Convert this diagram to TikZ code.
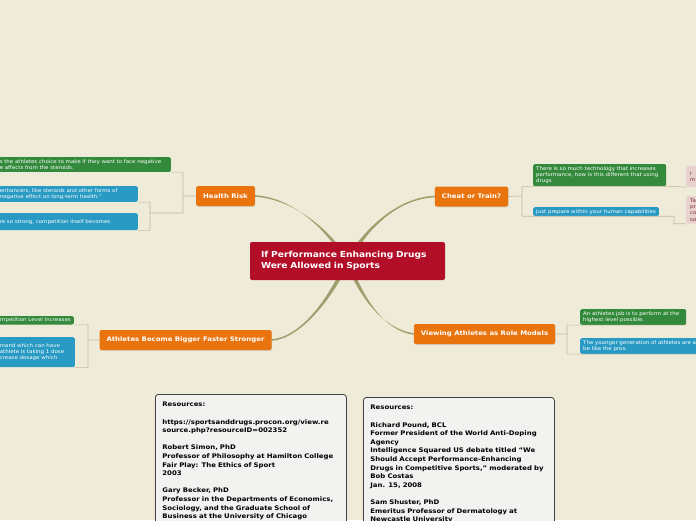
\documentclass[tikz,border=0pt]{standalone}
\usepackage{fontspec}
\newfontfamily\mmfont[FakeStretch=1.1]{DejaVu Sans}
\usetikzlibrary{positioning, calc, shadows}
\definecolor{mmbg}{RGB}{239,235,217}
\definecolor{mmred}{RGB}{178,14,40}
\definecolor{mmorange}{RGB}{233,116,14}
\definecolor{mmgreen}{RGB}{52,138,60}
\definecolor{mmblue}{RGB}{40,154,196}
\definecolor{mmpink}{RGB}{232,210,208}
\definecolor{mmpinktext}{RGB}{120,40,50}
\definecolor{mmline}{RGB}{196,186,160}
\definecolor{mmbranch}{RGB}{160,158,108}
\definecolor{mmbox}{RGB}{242,242,240}
\pgfdeclarelayer{bg}
\pgfsetlayers{bg,main}
\tikzset{
    central/.style={ % the main idea
        fill=mmred, text=white, rounded corners=2pt,
        font=\mmfont\bfseries\fontsize{8.3}{11}\selectfont,
        align=left, text width=173pt, inner xsep=11pt,
        minimum height=38pt
    },
    topic/.style={ % orange first level
        fill=mmorange, text=white, rounded corners=2pt,
        font=\mmfont\bfseries\fontsize{6.3}{7.5}\selectfont,
        inner xsep=7pt, minimum height=20pt,
        drop shadow={opacity=0.25, shadow xshift=0.6pt, shadow yshift=-0.8pt}
    },
    sub/.style={ % second level
        text=white, rounded corners=1.5pt,
        font=\mmfont\fontsize{5}{6.3}\selectfont,
        align=left, inner xsep=3pt, inner ysep=2.3pt
    },
    subgreen/.style={sub, fill=mmgreen},
    subblue/.style={sub, fill=mmblue},
    subpink/.style={sub, fill=mmpink, text=mmpinktext},
    resource/.style={ % the notes boxes
        fill=mmbox, draw=black!75, line width=0.8pt, rounded corners=3pt,
        font=\mmfont\bfseries\fontsize{6.3}{8.6}\selectfont,
        align=left, text width=177pt, inner xsep=7pt, inner ysep=7.8pt,
        anchor=north west
    },
    link/.style={draw=mmline, line width=0.6pt},
    branch/.style={fill=mmbranch},
}
\newcommand\mmbranch[3]{% end point, control near centre, control near end
    \fill[branch] ($(main.center)+(-2.6,0)$) .. controls ($#2+(-1.7,0)$) and ($#3+(0,-0.8)$) .. ($#1+(0,-0.8)$)
        -- ($#1+(0,0.8)$) .. controls ($#3+(0,0.8)$) and ($#2+(1.7,0)$) .. ($(main.center)+(2.6,0)$) -- cycle;}

\begin{document}
\begin{tikzpicture}[x=1pt,y=-1pt]
    \useasboundingbox (0,0) rectangle (696,520);
    \clip (0,0) rectangle (696,520);
    \begin{pgfonlayer}{bg}
        \fill[mmbg] (0,0) rectangle (696,520);
    \end{pgfonlayer}

    \node[central] (main) at (347.5,261) {If Performance Enhancing Drugs\\Were Allowed in Sports};

    \node[topic] (hr) at (225.5,196)   {Health Risk};
    \node[topic] (ct) at (471.5,196.5) {Cheat or Train?};
    \node[topic] (ab) at (185.5,340)   {Athletes Become Bigger Faster Stronger};
    \node[topic] (va) at (484.5,334)   {Viewing Athletes as Role Models};

    % health risk
    \node[subgreen, text width=168pt, anchor=north east] (hr-a) at (171,157)
        {s the athletes choice to make if they want to face negative\\e affects from the steroids.};
    \node[subblue, text width=135pt, anchor=north east] (hr-b) at (138,186)
        {enhancers, like steroids and other forms of\\ negative effect on long-term health.”};
    \node[subblue, text width=135pt, anchor=north east, minimum height=17pt] (hr-c) at (138,213)
        {re so strong, competition itself becomes};

    % cheat or train
    \node[subgreen, text width=127pt, anchor=north west] (ct-a) at (533,164)
        {There is so much technology that increases\\performance, how is this different that using\\drugs};
    \node[subblue, inner ysep=2pt, anchor=north west] (ct-b) at (533,207)
        {Just prepare within your human capabilities};
    \node[subpink, text width=20pt, inner xsep=4pt, anchor=north west, minimum height=21pt] (ct-c) at (686,166)
        {I\\m};
    \node[subpink, text width=20pt, inner xsep=4pt, anchor=north west] (ct-d) at (686,196)
        {Tal\\pr\\co\\so};

    % role models
    \node[subgreen, text width=100pt, anchor=north west] (va-a) at (580,309)
        {An athletes job is to perform at the\\highest level possible.};
    \node[subblue, text width=130pt, anchor=north west] (va-b) at (580,338)
        {The younger generation of athletes are a\\be like the pros.};

    % bigger faster stronger
    \node[subgreen, inner ysep=1.8pt, anchor=north east] (ab-a) at (74,316)
        {mpetition Level Increases};
    \node[subblue, text width=72pt, anchor=north east, minimum height=30pt] (ab-b) at (75,337)
        {mand which can have\\athlete is taking 1 dose\\crease dosage which};

    % resources
    \node[resource] (res-a) at (155,394)
        {Resources:\\[8.6pt]
         https://sportsanddrugs.procon.org/view.re\\source.php?resourceID=002352\\[8.6pt]
         Robert Simon, PhD\\Professor of Philosophy at Hamilton College\\Fair Play: The Ethics of Sport\\2003\\[8.6pt]
         Gary Becker, PhD\\Professor in the Departments of Economics,\\Sociology, and the Graduate School of\\Business at the University of Chicago};
    \node[resource] (res-b) at (363,397)
        {Resources:\\[8.6pt]
         Richard Pound, BCL\\Former President of the World Anti-Doping\\Agency\\Intelligence Squared US debate titled “We\\Should Accept Performance-Enhancing\\Drugs in Competitive Sports,” moderated by\\Bob Costas\\Jan. 15, 2008\\[8.6pt]
         Sam Shuster, PhD\\Emeritus Professor of Dermatology at\\Newcastle University};

    \coordinate (hr-j) at (183,196);
    \coordinate (hr-k) at (150,213);
    \coordinate (ct-j) at (522,196);
    \coordinate (va-j) at (567,334);
    \coordinate (ab-j) at (88,340);

    \draw[link] (hr.west) -- (hr-j)
                (hr-a.south east) -- (hr-j |- hr-a.south) -- (hr-j |- hr-k) -- (hr-k)
                (hr-b.south east) -- (hr-k |- hr-b.south) -- (hr-k |- hr-c.south) -- (hr-c.south east)
                (ct.east) -- (ct-j)
                (ct-j |- ct-a.south) -- (ct-j |- ct-b.south)
                (ct-j |- ct-a.south) -- ++(153,0) -- (ct-c.south west)
                (ct-j |- ct-b.south) -- ++(152,0) |- (ct-d.south west)
                (va.east) -- (va-j)
                (va-j |- va-a.south) -- (va-j |- va-b.south)
                (va-j |- va-a.south) -- (va-a.south east)
                (va-j |- va-b.south) -- (va-b.south east)
                (ab.west) -- (ab-j)
                (ab-j |- ab-a.south) -- (ab-j |- ab-b.south)
                (ab-j |- ab-a.south) -- (ab-a.south east)
                (ab-j |- ab-b.south) -- (ab-b.south east)
    ;

    \begin{pgfonlayer}{bg}
        \mmbranch{(hr.east)}{(325,225)}{(290,198)}
        \mmbranch{(ct.west)}{(368,225)}{(400,198)}
        \mmbranch{(ab.east)}{(330,300)}{(300,338)}
        \mmbranch{(va.west)}{(362,300)}{(385,330)}
    \end{pgfonlayer}
\end{tikzpicture}
\end{document}
